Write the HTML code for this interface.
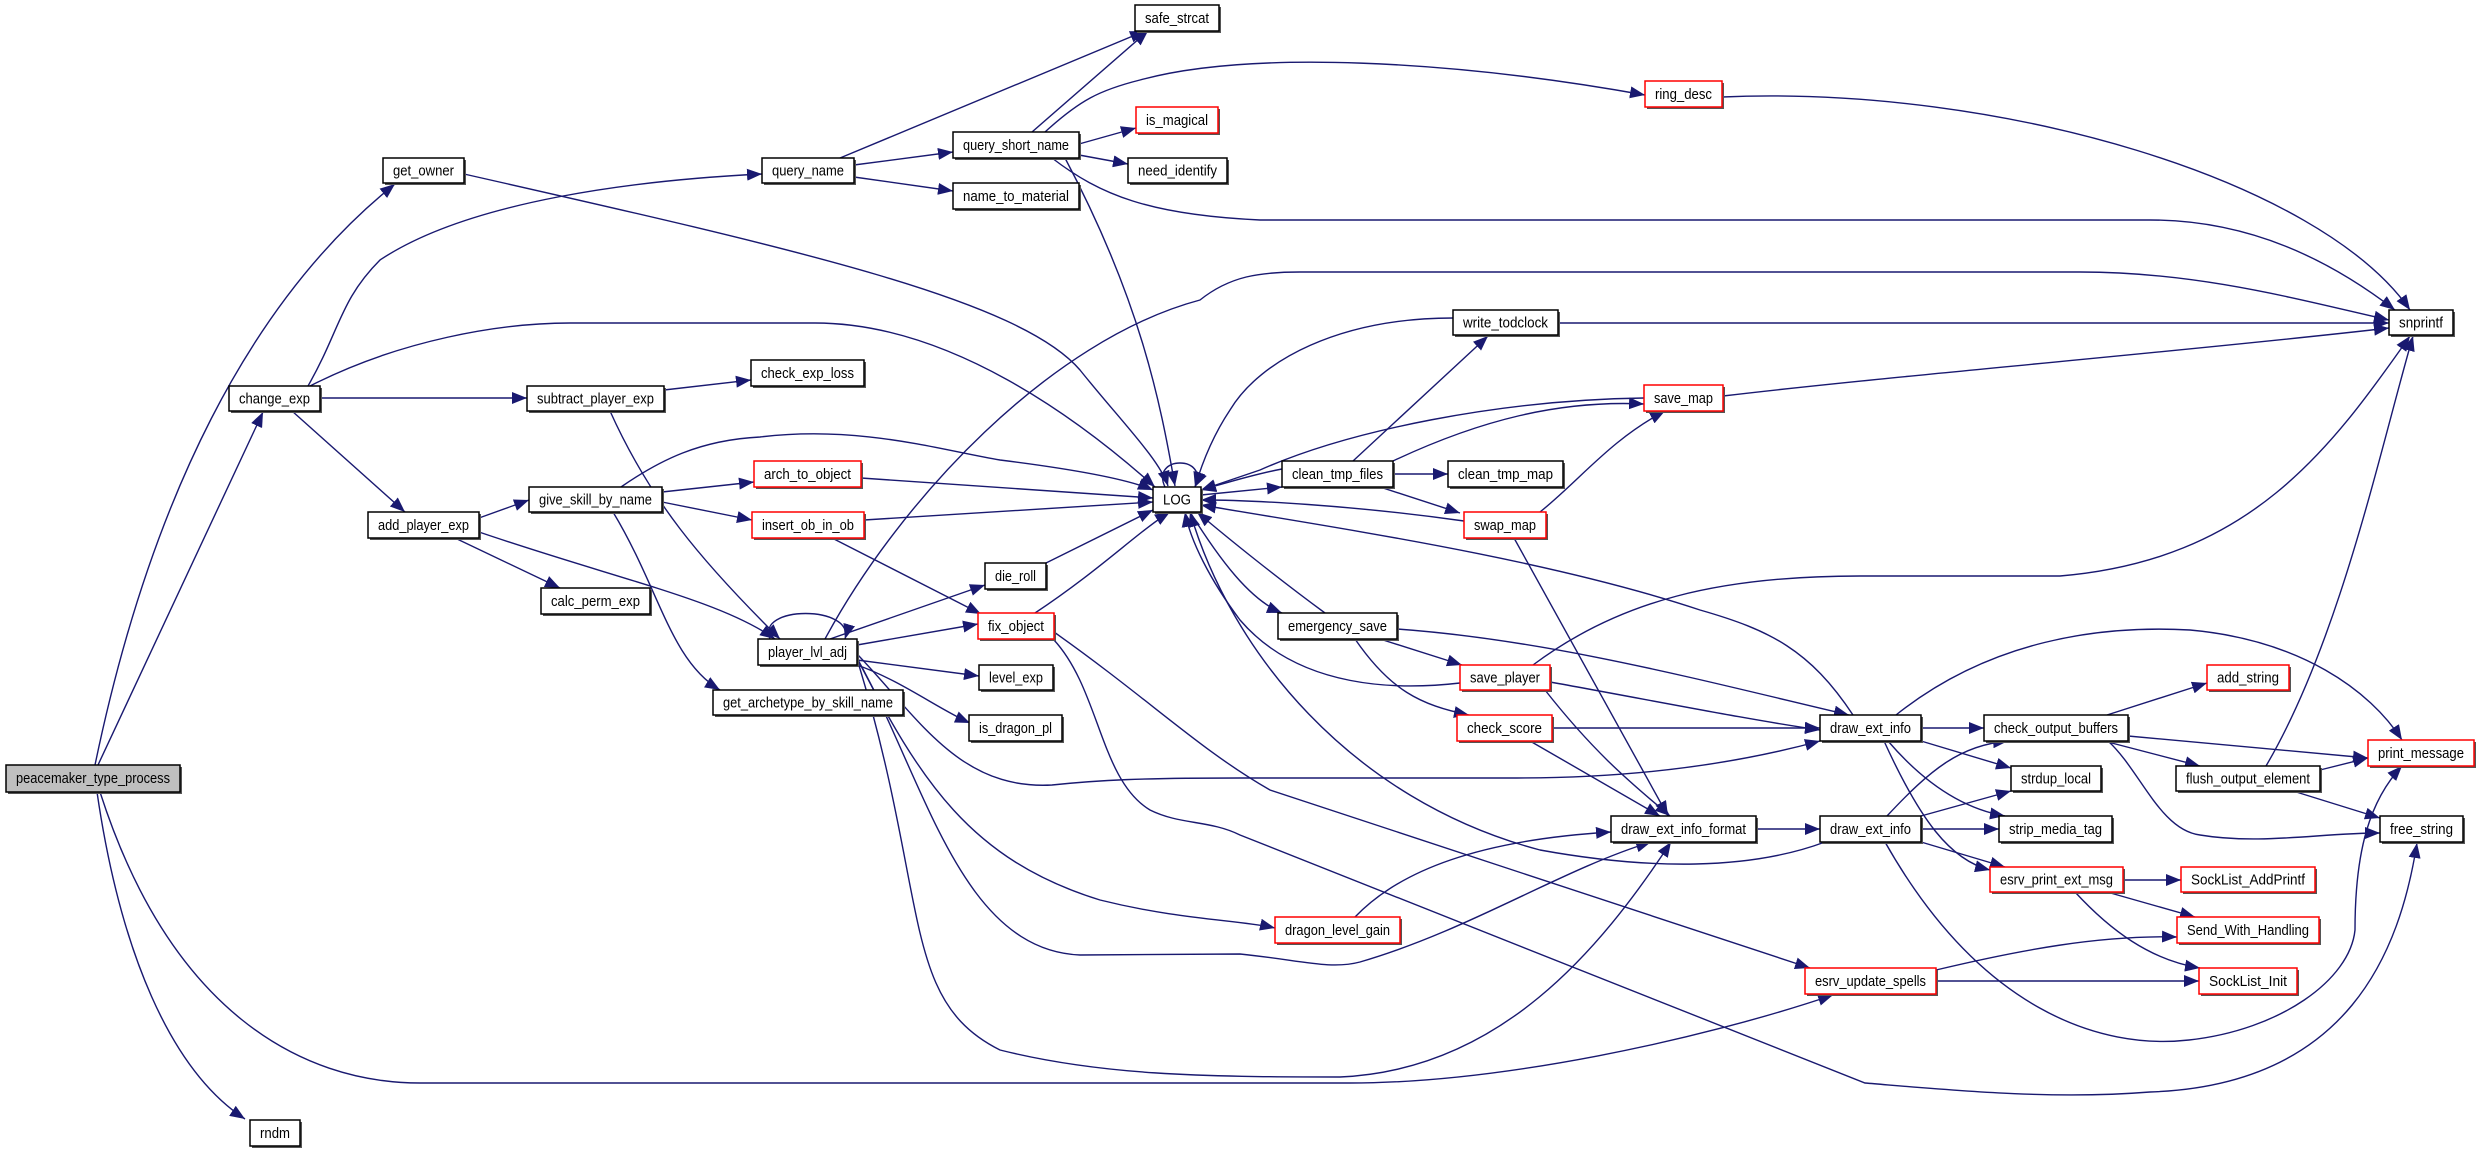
<!DOCTYPE html>
<html><head><meta charset="utf-8"><style>
html,body{margin:0;padding:0;background:#fff;}
svg{display:block;}
text{font-family:"Liberation Sans",sans-serif;font-size:15px;fill:#000;text-anchor:middle;}
.s{fill:#555;}
.n{fill:#fff;stroke:#000;stroke-width:1.5;}
.r{fill:#fff;stroke:#ff0000;stroke-width:1.5;}
.g{fill:#bfbfbf;stroke:#000;stroke-width:1.5;}
</style></head><body>
<svg width="2480" height="1152" viewBox="0 0 2480 1152" xmlns="http://www.w3.org/2000/svg">
<defs>
<marker id="a" markerUnits="userSpaceOnUse" markerWidth="16" markerHeight="12" refX="15" refY="6" orient="auto">
<path d="M0,0 L15,6 L0,12 z" fill="#191970"/>
</marker>
</defs>
<g fill="none" stroke="#191970" stroke-width="1.4" marker-end="url(#a)">
<path d="M95,765 C150,500 250,300 395,184"/>
<path d="M98,765 L263,412"/>
<path d="M97,792 C120,950 170,1070 245,1119"/>
<path d="M100,792 C170,1010 300,1083 420,1083 L1350,1083 C1500,1083 1700,1040 1833,995"/>
<path d="M464,174 C800,250 1020,300 1080,370 C1120,420 1160,460 1168,486"/>
<path d="M308,386 C340,330 340,300 380,260 C470,200 640,180 762,174"/>
<path d="M310,386 C400,340 500,323 570,323 L815,323 C950,323 1080,420 1155,487"/>
<path d="M320,398 L527,398"/>
<path d="M292,411 L405,512"/>
<path d="M664,390 L751,380"/>
<path d="M610,411 C650,500 700,560 780,639"/>
<path d="M479,518 L529,500"/>
<path d="M455,538 L560,588"/>
<path d="M479,532 C620,580 720,600 775,639"/>
<path d="M662,492 L754,482"/>
<path d="M662,502 L752,520"/>
<path d="M621,487 C660,460 700,440 760,437 C860,425 940,450 1000,460 C1080,470 1130,480 1153,490"/>
<path d="M613,512 C660,590 670,660 720,690"/>
<path d="M861,478 L1153,498"/>
<path d="M864,520 L1153,502"/>
<path d="M832,538 L981,614"/>
<path d="M840,158 L1145,31"/>
<path d="M854,165 L953,152"/>
<path d="M854,177 L953,191"/>
<path d="M1032,132 L1148,31"/>
<path d="M1079,144 L1136,128"/>
<path d="M1079,155 L1128,164"/>
<path d="M1065,158 C1140,300 1160,400 1175,486"/>
<path d="M1045,132 C1080,100 1100,90 1140,80 C1250,50 1450,60 1645,95"/>
<path d="M1052,158 C1100,195 1150,215 1260,220 L2150,220 C2250,220 2330,260 2395,310"/>
<path d="M1722,97 C2000,85 2320,180 2410,310"/>
<path d="M1165,487 C1150,455 1210,455 1195,487"/>
<path d="M1046,563 L1153,510"/>
<path d="M1035,613 C1100,570 1140,530 1170,512"/>
<path d="M830,639 L985,585"/>
<path d="M857,645 L978,624"/>
<path d="M857,660 L979,676"/>
<path d="M857,665 C900,680 940,710 970,723"/>
<path d="M770,639 C755,605 855,605 845,639"/>
<path d="M825,639 C900,500 1050,340 1200,300 C1230,276 1260,272 1300,272 L2080,272 C2200,272 2300,300 2389,320"/>
<path d="M858,655 C920,720 960,790 1052,785 C1100,780 1140,778 1240,778 L1517,778 C1650,778 1750,760 1820,741"/>
<path d="M858,660 C920,780 970,860 1100,900 C1180,920 1240,920 1275,928"/>
<path d="M858,660 C925,780 960,950 1080,955 L1240,954 C1300,960 1330,970 1360,962 C1470,930 1560,870 1651,842"/>
<path d="M858,662 C930,900 900,1000 1000,1050 C1100,1075 1200,1077 1340,1077 C1500,1070 1600,950 1671,842"/>
<path d="M1054,632 C1150,700 1200,750 1270,790 L1810,968"/>
<path d="M1054,640 C1100,690 1100,780 1150,810 C1180,825 1210,820 1240,835 L1865,1083 C1950,1090 2050,1100 2150,1092 C2350,1085 2400,950 2417,843"/>
<path d="M1201,495 L1282,487"/>
<path d="M1282,469 C1250,475 1220,485 1201,490"/>
<path d="M1190,512 C1220,560 1250,600 1282,613"/>
<path d="M1325,613 C1280,580 1230,540 1197,512"/>
<path d="M1353,461 L1488,336"/>
<path d="M1393,474 L1448,474"/>
<path d="M1393,461 C1480,420 1560,400 1644,404"/>
<path d="M1380,487 L1460,513"/>
<path d="M1453,318 C1340,318 1260,360 1230,410 C1210,440 1200,470 1195,487"/>
<path d="M1558,323 L2389,323"/>
<path d="M1644,398 C1500,400 1350,430 1260,470 L1201,490"/>
<path d="M1723,396 C1900,375 2200,350 2389,328"/>
<path d="M1540,512 C1580,480 1610,440 1665,411"/>
<path d="M1464,521 C1350,505 1250,500 1201,500"/>
<path d="M1514,538 L1668,816"/>
<path d="M1380,639 L1462,665"/>
<path d="M1355,639 C1390,690 1420,705 1469,715"/>
<path d="M1397,629 C1550,640 1700,680 1849,715"/>
<path d="M1460,683 C1400,690 1300,690 1240,620 C1210,580 1190,540 1185,512"/>
<path d="M1533,665 C1620,600 1720,576 1860,576 L2060,576 C2250,560 2330,450 2410,336"/>
<path d="M1550,682 C1650,700 1750,720 1820,730"/>
<path d="M1545,690 C1600,760 1640,790 1670,816"/>
<path d="M1552,728 L1820,728"/>
<path d="M1530,741 L1660,816"/>
<path d="M1853,715 C1810,650 1770,630 1700,610 C1550,560 1350,530 1201,505"/>
<path d="M1921,728 L1984,728"/>
<path d="M1896,715 C1990,640 2100,625 2190,630 C2300,640 2370,690 2402,740"/>
<path d="M1921,741 L2011,768"/>
<path d="M1888,741 C1930,790 1970,810 2005,816"/>
<path d="M1884,741 C1920,820 1950,860 1990,870"/>
<path d="M2107,715 L2207,683"/>
<path d="M2128,736 L2368,758"/>
<path d="M2104,741 L2200,766"/>
<path d="M2108,741 C2140,770 2160,830 2200,835 C2260,845 2320,833 2380,833"/>
<path d="M2320,770 L2368,758"/>
<path d="M2293,791 L2380,818"/>
<path d="M2266,766 C2340,640 2380,450 2413,336"/>
<path d="M1756,829 L1820,829"/>
<path d="M1887,816 C1930,770 1960,745 2008,741"/>
<path d="M1921,816 L2011,791"/>
<path d="M1921,829 L1999,829"/>
<path d="M1921,842 L2005,867"/>
<path d="M1825,842 C1750,870 1650,870 1540,850 C1350,800 1230,650 1190,512"/>
<path d="M1885,842 C1980,1010 2100,1050 2189,1040 C2280,1030 2350,980 2355,930 C2355,850 2370,800 2402,766"/>
<path d="M1355,917 C1400,870 1480,840 1611,832"/>
<path d="M2123,880 L2181,880"/>
<path d="M2107,892 L2195,917"/>
<path d="M2075,892 C2110,930 2150,960 2200,968"/>
<path d="M1936,970 C2020,950 2100,935 2177,937"/>
<path d="M1936,981 L2199,981"/>
</g>

<rect class="s" x="8" y="767" width="174" height="27"/><rect class="g" x="6" y="765" width="174" height="27"/><text x="93" y="783" textLength="154" lengthAdjust="spacingAndGlyphs">peacemaker_type_process</text>
<rect class="s" x="252" y="1122" width="50" height="26"/><rect class="n" x="250" y="1120" width="50" height="26"/><text x="275" y="1138" textLength="30" lengthAdjust="spacingAndGlyphs">rndm</text>
<rect class="s" x="385" y="160" width="81" height="25"/><rect class="n" x="383" y="158" width="81" height="25"/><text x="423.5" y="175.5" textLength="61" lengthAdjust="spacingAndGlyphs">get_owner</text>
<rect class="s" x="231" y="388" width="91" height="25"/><rect class="n" x="229" y="386" width="91" height="25"/><text x="274.5" y="403.5" textLength="71" lengthAdjust="spacingAndGlyphs">change_exp</text>
<rect class="s" x="529" y="388" width="137" height="25"/><rect class="n" x="527" y="386" width="137" height="25"/><text x="595.5" y="403.5" textLength="117" lengthAdjust="spacingAndGlyphs">subtract_player_exp</text>
<rect class="s" x="753" y="362" width="113" height="26"/><rect class="n" x="751" y="360" width="113" height="26"/><text x="807.5" y="378" textLength="93" lengthAdjust="spacingAndGlyphs">check_exp_loss</text>
<rect class="s" x="370" y="514" width="111" height="26"/><rect class="n" x="368" y="512" width="111" height="26"/><text x="423.5" y="530" textLength="91" lengthAdjust="spacingAndGlyphs">add_player_exp</text>
<rect class="s" x="531" y="489" width="133" height="25"/><rect class="n" x="529" y="487" width="133" height="25"/><text x="595.5" y="504.5" textLength="113" lengthAdjust="spacingAndGlyphs">give_skill_by_name</text>
<rect class="s" x="543" y="590" width="109" height="26"/><rect class="n" x="541" y="588" width="109" height="26"/><text x="595.5" y="606" textLength="89" lengthAdjust="spacingAndGlyphs">calc_perm_exp</text>
<rect class="s" x="760" y="641" width="99" height="26"/><rect class="n" x="758" y="639" width="99" height="26"/><text x="807.5" y="657" textLength="79" lengthAdjust="spacingAndGlyphs">player_lvl_adj</text>
<rect class="s" x="715" y="692" width="190" height="25"/><rect class="n" x="713" y="690" width="190" height="25"/><text x="808" y="707.5" textLength="170" lengthAdjust="spacingAndGlyphs">get_archetype_by_skill_name</text>
<rect class="s" x="764" y="160" width="92" height="25"/><rect class="n" x="762" y="158" width="92" height="25"/><text x="808" y="175.5" textLength="72" lengthAdjust="spacingAndGlyphs">query_name</text>
<rect class="s" x="955" y="134" width="126" height="26"/><rect class="n" x="953" y="132" width="126" height="26"/><text x="1016" y="150" textLength="106" lengthAdjust="spacingAndGlyphs">query_short_name</text>
<rect class="s" x="955" y="185" width="126" height="26"/><rect class="n" x="953" y="183" width="126" height="26"/><text x="1016" y="201" textLength="106" lengthAdjust="spacingAndGlyphs">name_to_material</text>
<rect class="s" x="1137" y="7" width="84" height="26"/><rect class="n" x="1135" y="5" width="84" height="26"/><text x="1177" y="23" textLength="64" lengthAdjust="spacingAndGlyphs">safe_strcat</text>
<rect class="s" x="1138" y="109" width="82" height="26"/><rect class="r" x="1136" y="107" width="82" height="26"/><text x="1177" y="125" textLength="62" lengthAdjust="spacingAndGlyphs">is_magical</text>
<rect class="s" x="1130" y="160" width="99" height="25"/><rect class="n" x="1128" y="158" width="99" height="25"/><text x="1177.5" y="175.5" textLength="79" lengthAdjust="spacingAndGlyphs">need_identify</text>
<rect class="s" x="1647" y="83" width="77" height="26"/><rect class="r" x="1645" y="81" width="77" height="26"/><text x="1683.5" y="99" textLength="57" lengthAdjust="spacingAndGlyphs">ring_desc</text>
<rect class="s" x="756" y="463" width="107" height="26"/><rect class="r" x="754" y="461" width="107" height="26"/><text x="807.5" y="479" textLength="87" lengthAdjust="spacingAndGlyphs">arch_to_object</text>
<rect class="s" x="754" y="514" width="112" height="26"/><rect class="r" x="752" y="512" width="112" height="26"/><text x="808" y="530" textLength="92" lengthAdjust="spacingAndGlyphs">insert_ob_in_ob</text>
<rect class="s" x="1155" y="489" width="48" height="25"/><rect class="n" x="1153" y="487" width="48" height="25"/><text x="1177" y="504.5" textLength="28" lengthAdjust="spacingAndGlyphs">LOG</text>
<rect class="s" x="987" y="565" width="61" height="26"/><rect class="n" x="985" y="563" width="61" height="26"/><text x="1015.5" y="581" textLength="41" lengthAdjust="spacingAndGlyphs">die_roll</text>
<rect class="s" x="980" y="615" width="76" height="26"/><rect class="r" x="978" y="613" width="76" height="26"/><text x="1016" y="631" textLength="56" lengthAdjust="spacingAndGlyphs">fix_object</text>
<rect class="s" x="981" y="667" width="74" height="25"/><rect class="n" x="979" y="665" width="74" height="25"/><text x="1016" y="682.5" textLength="54" lengthAdjust="spacingAndGlyphs">level_exp</text>
<rect class="s" x="971" y="717" width="93" height="26"/><rect class="n" x="969" y="715" width="93" height="26"/><text x="1015.5" y="733" textLength="73" lengthAdjust="spacingAndGlyphs">is_dragon_pl</text>
<rect class="s" x="2391" y="312" width="64" height="25"/><rect class="n" x="2389" y="310" width="64" height="25"/><text x="2421" y="327.5" textLength="44" lengthAdjust="spacingAndGlyphs">snprintf</text>
<rect class="s" x="1455" y="312" width="105" height="25"/><rect class="n" x="1453" y="310" width="105" height="25"/><text x="1505.5" y="327.5" textLength="85" lengthAdjust="spacingAndGlyphs">write_todclock</text>
<rect class="s" x="1646" y="387" width="79" height="26"/><rect class="r" x="1644" y="385" width="79" height="26"/><text x="1683.5" y="403" textLength="59" lengthAdjust="spacingAndGlyphs">save_map</text>
<rect class="s" x="1284" y="463" width="111" height="26"/><rect class="n" x="1282" y="461" width="111" height="26"/><text x="1337.5" y="479" textLength="91" lengthAdjust="spacingAndGlyphs">clean_tmp_files</text>
<rect class="s" x="1450" y="463" width="115" height="26"/><rect class="n" x="1448" y="461" width="115" height="26"/><text x="1505.5" y="479" textLength="95" lengthAdjust="spacingAndGlyphs">clean_tmp_map</text>
<rect class="s" x="1466" y="514" width="82" height="26"/><rect class="r" x="1464" y="512" width="82" height="26"/><text x="1505" y="530" textLength="62" lengthAdjust="spacingAndGlyphs">swap_map</text>
<rect class="s" x="1280" y="615" width="119" height="26"/><rect class="n" x="1278" y="613" width="119" height="26"/><text x="1337.5" y="631" textLength="99" lengthAdjust="spacingAndGlyphs">emergency_save</text>
<rect class="s" x="1462" y="667" width="90" height="25"/><rect class="r" x="1460" y="665" width="90" height="25"/><text x="1505" y="682.5" textLength="70" lengthAdjust="spacingAndGlyphs">save_player</text>
<rect class="s" x="1459" y="717" width="95" height="26"/><rect class="r" x="1457" y="715" width="95" height="26"/><text x="1504.5" y="733" textLength="75" lengthAdjust="spacingAndGlyphs">check_score</text>
<rect class="s" x="1822" y="717" width="101" height="26"/><rect class="n" x="1820" y="715" width="101" height="26"/><text x="1870.5" y="733" textLength="81" lengthAdjust="spacingAndGlyphs">draw_ext_info</text>
<rect class="s" x="1986" y="717" width="144" height="26"/><rect class="n" x="1984" y="715" width="144" height="26"/><text x="2056" y="733" textLength="124" lengthAdjust="spacingAndGlyphs">check_output_buffers</text>
<rect class="s" x="2209" y="667" width="82" height="25"/><rect class="r" x="2207" y="665" width="82" height="25"/><text x="2248" y="682.5" textLength="62" lengthAdjust="spacingAndGlyphs">add_string</text>
<rect class="s" x="2370" y="742" width="106" height="26"/><rect class="r" x="2368" y="740" width="106" height="26"/><text x="2421" y="758" textLength="86" lengthAdjust="spacingAndGlyphs">print_message</text>
<rect class="s" x="2013" y="768" width="90" height="25"/><rect class="n" x="2011" y="766" width="90" height="25"/><text x="2056" y="783.5" textLength="70" lengthAdjust="spacingAndGlyphs">strdup_local</text>
<rect class="s" x="2178" y="768" width="144" height="25"/><rect class="n" x="2176" y="766" width="144" height="25"/><text x="2248" y="783.5" textLength="124" lengthAdjust="spacingAndGlyphs">flush_output_element</text>
<rect class="s" x="1613" y="818" width="145" height="26"/><rect class="n" x="1611" y="816" width="145" height="26"/><text x="1683.5" y="834" textLength="125" lengthAdjust="spacingAndGlyphs">draw_ext_info_format</text>
<rect class="s" x="1822" y="818" width="101" height="26"/><rect class="n" x="1820" y="816" width="101" height="26"/><text x="1870.5" y="834" textLength="81" lengthAdjust="spacingAndGlyphs">draw_ext_info</text>
<rect class="s" x="2001" y="818" width="113" height="26"/><rect class="n" x="1999" y="816" width="113" height="26"/><text x="2055.5" y="834" textLength="93" lengthAdjust="spacingAndGlyphs">strip_media_tag</text>
<rect class="s" x="2382" y="818" width="83" height="26"/><rect class="n" x="2380" y="816" width="83" height="26"/><text x="2421.5" y="834" textLength="63" lengthAdjust="spacingAndGlyphs">free_string</text>
<rect class="s" x="1992" y="869" width="133" height="25"/><rect class="r" x="1990" y="867" width="133" height="25"/><text x="2056.5" y="884.5" textLength="113" lengthAdjust="spacingAndGlyphs">esrv_print_ext_msg</text>
<rect class="s" x="2183" y="869" width="134" height="25"/><rect class="r" x="2181" y="867" width="134" height="25"/><text x="2248" y="884.5" textLength="114" lengthAdjust="spacingAndGlyphs">SockList_AddPrintf</text>
<rect class="s" x="1277" y="919" width="125" height="26"/><rect class="r" x="1275" y="917" width="125" height="26"/><text x="1337.5" y="935" textLength="105" lengthAdjust="spacingAndGlyphs">dragon_level_gain</text>
<rect class="s" x="2179" y="919" width="142" height="26"/><rect class="r" x="2177" y="917" width="142" height="26"/><text x="2248" y="935" textLength="122" lengthAdjust="spacingAndGlyphs">Send_With_Handling</text>
<rect class="s" x="1807" y="970" width="131" height="26"/><rect class="r" x="1805" y="968" width="131" height="26"/><text x="1870.5" y="986" textLength="111" lengthAdjust="spacingAndGlyphs">esrv_update_spells</text>
<rect class="s" x="2201" y="970" width="98" height="26"/><rect class="r" x="2199" y="968" width="98" height="26"/><text x="2248" y="986" textLength="78" lengthAdjust="spacingAndGlyphs">SockList_Init</text>
</svg>
</body></html>
